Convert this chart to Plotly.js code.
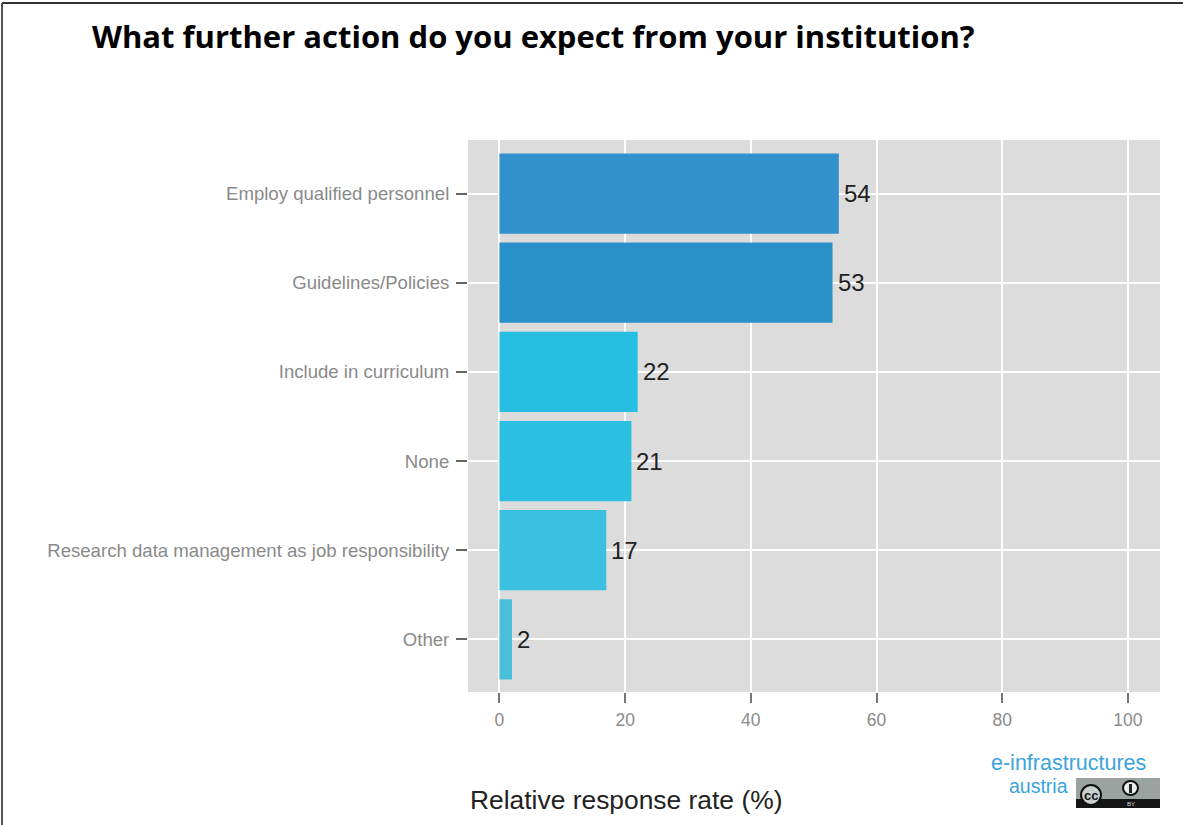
<!DOCTYPE html>
<html><head><meta charset="utf-8">
<script src="https://cdn.plot.ly/plotly-3.0.1.min.js"></script>
<style>html,body{margin:0;padding:0;background:#fff;overflow:hidden}</style></head>
<body><div id="chart" style="width:1183px;height:825px"></div>
<script>
const categories = ["Employ qualified personnel","Guidelines/Policies","Include in curriculum","None","Research data management as job responsibility","Other"];
const values = [54,53,22,21,17,2];
const barColors = ["#3290cc","#2a92ca","#27bee2","#2bc0e2","#3ac0e0","#4abfdc"];
const xTicks = [0,20,40,60,80,100];
const W=1183,H=825,L=468,R=1160,T=140,B=692;
const px=x=>(x-L)/(R-L), py=y=>(B-y)/(B-T);
const rect=(x0,y0,x1,y1,fill)=>({type:'rect',xref:'paper',yref:'paper',x0:px(x0),x1:px(x1),y0:py(y0),y1:py(y1),fillcolor:fill,line:{width:0},layer:'above'});
const circ=(x0,y0,x1,y1,fill,lc)=>({type:'circle',xref:'paper',yref:'paper',x0:px(x0),x1:px(x1),y0:py(y0),y1:py(y1),fillcolor:fill,line:{width:2,color:lc},layer:'above'});
const line=(x0,y0,x1,y1,c,w)=>({type:'line',xref:'paper',yref:'paper',x0:px(x0),x1:px(x1),y0:py(y0),y1:py(y1),line:{color:c,width:w},layer:'above'});
const txt=(x,y,t,size,color,anchor,family,extra)=>Object.assign({xref:'paper',yref:'paper',x:px(x),y:py(y),text:t,showarrow:false,xanchor:anchor,yanchor:'middle',font:{size,color,family}},extra||{});
const sans='"Liberation Sans",Arial,sans-serif';
const valueLabels=values.map((v,i)=>({x:v,y:categories[i],xref:'x',yref:'y',text:String(v),showarrow:false,xanchor:'left',yanchor:'middle',xshift:3,font:{size:24,color:'#222',family:sans}}));
Plotly.newPlot('chart',[{
  type:'bar',orientation:'h',y:categories,x:values,width:0.9,
  marker:{color:barColors,line:{width:0}},hoverinfo:'skip'
}],{
  width:W,height:H,paper_bgcolor:'#fff',plot_bgcolor:'#dcdcdc',
  margin:{l:L,r:W-R,t:T,b:H-B,pad:0},showlegend:false,
  font:{family:sans},
  xaxis:{range:[-5,105.1],tickvals:xTicks,ticktext:xTicks.map(String),showgrid:true,gridcolor:'#fff',gridwidth:2,zeroline:false,
    ticks:'outside',ticklen:10,tickwidth:2,tickcolor:'#777',tickfont:{size:17.5,color:'#8a8a8a',family:sans},ticklabelstandoff:2,showline:false},
  yaxis:{type:'category',categoryorder:'array',categoryarray:categories,range:[5.59,-0.6],showgrid:true,gridcolor:'#fff',gridwidth:2,zeroline:false,
    ticks:'outside',ticklen:11,tickwidth:2,tickcolor:'#666',tickfont:{size:18.6,color:'#8a8a8a',family:sans},ticklabelstandoff:3,showline:false},
  shapes:[
    line(2,3,1183,3,'#333',2),line(2,3,2,825,'#555',2),
    rect(1076,778,1160,808,'#9aa3a0'),rect(1076,799,1160,808,'#151515'),
    circ(1081,785,1101,805,'#c9d0cd','#111'),circ(1123,781,1138,795,'#e8ecea','#111'),
    line(1130.5,784,1130.5,793,'#222',3)
  ],
  annotations:valueLabels.concat([
    txt(90,36,'What further action do you expect from your institution?',31,'#000','left','"Open Sans",sans-serif',{font:{size:31,color:'#000',family:'"Open Sans",sans-serif',weight:700}}),
    txt(468,800,'Relative response rate (%)',26.4,'#222','left',sans),
    txt(1148,763,'e-infrastructures',21.5,'#3aa4dc','right',sans),
    txt(1070,786,'austria',19.5,'#3aa4dc','right',sans),
    txt(1091,795,'cc',13,'#111','center',sans,{font:{size:13,color:'#111',family:sans,weight:700}}),
    txt(1130.5,803.5,'BY',6,'#ddd','center',sans)
  ])
},{displayModeBar:false,staticPlot:true});
</script></body></html>
